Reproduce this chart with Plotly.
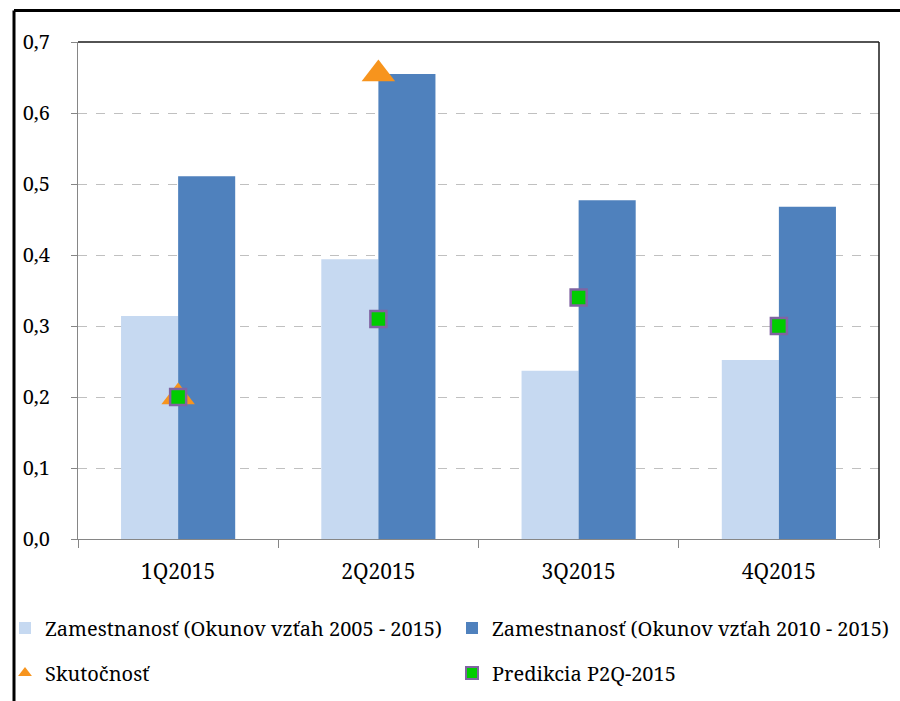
import plotly.graph_objects as go

# Quarterly employment growth estimates
quarters = ["1Q2015", "2Q2015", "3Q2015", "4Q2015"]
okun_2005_2015 = [0.314, 0.394, 0.237, 0.252]
okun_2010_2015 = [0.511, 0.655, 0.477, 0.468]
actual_quarters = ["1Q2015", "2Q2015"]
actual = [0.20, 0.655]
prediction = [0.20, 0.31, 0.34, 0.30]
y_ticks = [0.0, 0.1, 0.2, 0.3, 0.4, 0.5, 0.6, 0.7]

FONT = "Noto Serif, DejaVu Serif, serif"
FS_LEGEND = 20
FS_X = 21
FS_Y = 20

# plot-area geometry in pixels (figure is 900 x 701)
W, H = 900, 701
L, R, T, B = 78, 879, 42, 539
pw, ph = R - L, B - T


def px_x(x):
    return (x - L) / pw


def px_y(y):
    return (B - y) / ph


fig = go.Figure()

fig.add_trace(go.Bar(
    x=quarters, y=okun_2005_2015,
    name="Zamestnanosť (Okunov vzťah 2005 - 2015)",
    marker=dict(color="#c6d9f1", line=dict(width=0)),
    legend="legend",
))
fig.add_trace(go.Bar(
    x=quarters, y=okun_2010_2015,
    name="Zamestnanosť (Okunov vzťah 2010 - 2015)",
    marker=dict(color="#4f81bd", line=dict(width=0)),
    legend="legend2",
))
fig.add_trace(go.Scatter(
    x=actual_quarters, y=actual, mode="markers",
    name="Skutočnosť",
    marker=dict(symbol="triangle-up", size=29, color="#f7941d",
                line=dict(width=0)),
    legend="legend3",
))
fig.add_trace(go.Scatter(
    x=quarters, y=prediction, mode="markers",
    name="Predikcia P2Q-2015",
    marker=dict(symbol="square", size=16, color="#00cc00",
                line=dict(width=2.5, color="#8064a2")),
    legend="legend4",
))

legend_common = dict(
    orientation="h", xanchor="left", yanchor="middle",
    font=dict(family=FONT, size=FS_LEGEND, color="#000000"),
    bgcolor="rgba(0,0,0,0)", borderwidth=0,
    itemsizing="constant",
)

shapes = [
    # plot-area top and right border
    dict(type="line", xref="paper", yref="paper", x0=0, x1=1, y0=1, y1=1,
         line=dict(color="#1a1a1a", width=1.5)),
    dict(type="line", xref="paper", yref="paper", x0=1, x1=1, y0=0, y1=1,
         line=dict(color="#1a1a1a", width=1.5)),
    # outer frame
    dict(type="line", xref="paper", yref="paper",
         x0=px_x(14), x1=px_x(905), y0=px_y(10.5), y1=px_y(10.5),
         line=dict(color="#000000", width=3)),
    dict(type="line", xref="paper", yref="paper",
         x0=px_x(14), x1=px_x(14), y0=px_y(10.5), y1=px_y(710),
         line=dict(color="#000000", width=3)),
]

fig.update_layout(
    width=W, height=H,
    margin=dict(l=L, r=W - R, t=T, b=H - B, pad=0, autoexpand=False),
    paper_bgcolor="#ffffff", plot_bgcolor="#ffffff",
    barmode="group", bargap=0.43, bargroupgap=0,
    separators=", ",
    font=dict(family=FONT, size=FS_X, color="#000000"),
    showlegend=True,
    legend=dict(x=px_x(5), y=px_y(628), **legend_common),
    legend2=dict(x=px_x(452), y=px_y(628), **legend_common),
    legend3=dict(x=px_x(5), y=px_y(673), **legend_common),
    legend4=dict(x=px_x(452), y=px_y(673), **legend_common),
    shapes=shapes,
    xaxis=dict(
        type="category", tickson="boundaries",
        ticks="outside", ticklen=8, tickcolor="#868686", tickwidth=1,
        showline=True, linecolor="#868686", linewidth=1,
        showgrid=False, zeroline=False,
        tickfont=dict(family=FONT, size=FS_X, color="#000000"),
        ticklabelstandoff=14,
    ),
    yaxis=dict(
        range=[0, 0.7], tickvals=y_ticks, tickformat=".1f",
        ticks="outside", ticklen=6, tickcolor="#868686", tickwidth=1,
        showline=True, linecolor="#868686", linewidth=1,
        showgrid=True, gridcolor="#c0c0c0", griddash="dash", gridwidth=1,
        zeroline=False,
        tickfont=dict(family=FONT, size=FS_Y, color="#000000"),
        ticklabelstandoff=17,
    ),
)

fig.write_html("out.html")
